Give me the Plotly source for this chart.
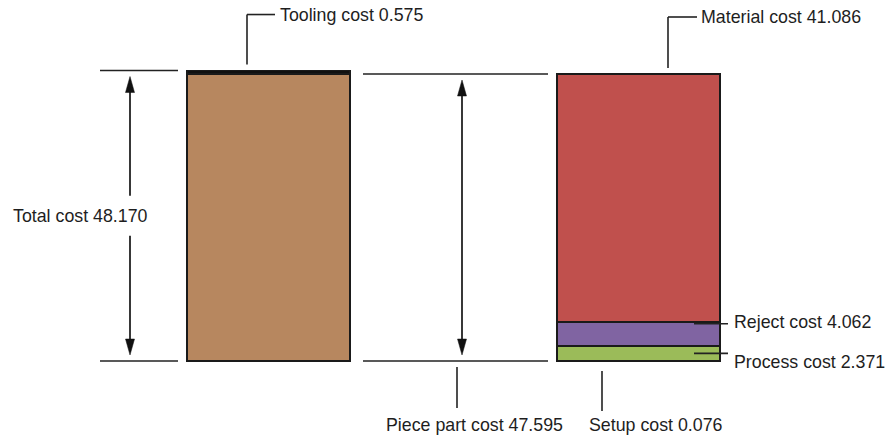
import plotly.graph_objects as go

# ---------------- data ----------------
left_labels = ["Piece part cost", "Tooling cost"]
left_values = [47.595, 0.575]
left_colors = ["#B7875F", "#111111"]

right_labels = ["Setup cost", "Process cost", "Reject cost", "Material cost"]
right_values = [0.076, 2.371, 4.062, 41.086]
right_colors = ["#333333", "#9BBB59", "#8064A2", "#C0504D"]

total_label = "Total cost"
total_value = 48.170
piece_label = "Piece part cost"
piece_value = 47.595

# ---------------- layout helpers ----------------
W, H = 890, 440
X0_PX, XS = 268.5, 370.0   # pixel of x=0, pixels per x unit
Y0_PX, YS = 361.0, 6.03    # pixel of y=0, pixels per y unit
xr = [-X0_PX / XS, (W - X0_PX) / XS]
yr = [-(H - Y0_PX) / YS, Y0_PX / YS]


def X(px):
    return (px - X0_PX) / XS


def dx(p):
    return p / XS


def dy(p):
    return p / YS


LINE = "#222222"
FONT = dict(family="Liberation Sans, Arial, sans-serif", size=17.8, color="#1e1e1e")
BAR_W = 163 / XS

fig = go.Figure()
for lab, v, c in zip(left_labels, left_values, left_colors):
    fig.add_trace(go.Bar(x=[0], y=[v], name=lab, width=BAR_W,
                         marker=dict(color=c, line=dict(color="#1a1a1a", width=1.6))))
for lab, v, c in zip(right_labels, right_values, right_colors):
    fig.add_trace(go.Bar(x=[1], y=[v], name=lab, width=BAR_W,
                         marker=dict(color=c, line=dict(color="#1a1a1a", width=1.6))))

shapes = []
annos = []


def line(x0, y0, x1, y1, w=1.6):
    shapes.append(dict(type="line", xref="x", yref="y", x0=x0, y0=y0, x1=x1, y1=y1,
                       line=dict(color=LINE, width=w)))


def head(x, ytip, up=True):
    s = 1 if up else -1
    yb = ytip - s * dy(16)
    hw = dx(4.5)
    shapes.append(dict(type="path", xref="x", yref="y",
                       path=f"M{x},{ytip} L{x - hw},{yb} L{x + hw},{yb} Z",
                       fillcolor="#111111", line=dict(color="#111111", width=0.5)))


def text(t, x, y, anchor="left"):
    annos.append(dict(text=t, x=x, y=y, xref="x", yref="y", showarrow=False,
                      xanchor=anchor, yanchor="middle", font=FONT))


total = left_values[0] + left_values[1]
piece = sum(right_values)

# ---- total cost dimension (left) ----
line(X(100), total, X(178), total)
line(X(100), 0, X(178), 0)
xa = X(130)
gap = dy(20)
line(xa, total - dy(14), xa, total / 2 + gap, 1.8)
line(xa, total / 2 - gap, xa, dy(14), 1.8)
head(xa, total - dy(6), True)
head(xa, dy(6), False)
text(f"{total_label} {total_value:.3f}", X(80), total / 2, "center")

# ---- piece part dimension (middle) ----
line(X(363), piece, X(548), piece)
line(X(363), 0, X(548), 0)
xm = X(462)
line(xm, piece - dy(14), xm, dy(14), 1.8)
head(xm, piece - dy(6), True)
head(xm, dy(6), False)
line(X(457), -dy(6), X(457), -dy(47))
text(f"{piece_label} {piece_value:.3f}", X(474.5), -dy(64), "center")

# ---- tooling leader ----
xt = X(247)
line(xt, total + dy(6), xt, total + dy(56))
line(xt, total + dy(56), X(275), total + dy(56))
text(f"{left_labels[1]} {left_values[1]:.3f}", X(278), total + dy(56))

# ---- material leader ----
xmat = X(668)
line(xmat, piece + dy(6), xmat, piece + dy(57))
line(xmat, piece + dy(57), X(697), piece + dy(57))
text(f"{right_labels[3]} {right_values[3]:.3f}", X(699), piece + dy(57))

# ---- reject leader ----
y_rej = right_values[0] + right_values[1] + right_values[2]
line(X(694), y_rej - dy(2), X(728), y_rej - dy(2))
text(f"{right_labels[2]} {right_values[2]:.3f}", X(732), y_rej)

# ---- process leader ----
y_proc = right_values[0] + right_values[1] / 2
line(X(694), y_proc, X(728), y_proc)
text(f"{right_labels[1]} {right_values[1]:.3f}", X(732), y_proc - dy(9))

# ---- setup leader ----
line(X(602), -dy(10), X(602), -dy(50))
text(f"{right_labels[0]} {right_values[0]:.3f}", X(656), -dy(64), "center")

fig.update_layout(
    width=W, height=H, barmode="stack", showlegend=False,
    margin=dict(l=0, r=0, t=0, b=0),
    paper_bgcolor="white", plot_bgcolor="white",
    xaxis=dict(range=xr, visible=False, fixedrange=True),
    yaxis=dict(range=yr, visible=False, fixedrange=True),
    shapes=shapes, annotations=annos,
)
fig.write_html("out.html", config=dict(displayModeBar=False),
               post_script="document.body.style.margin='0';document.body.style.overflow='hidden';")
